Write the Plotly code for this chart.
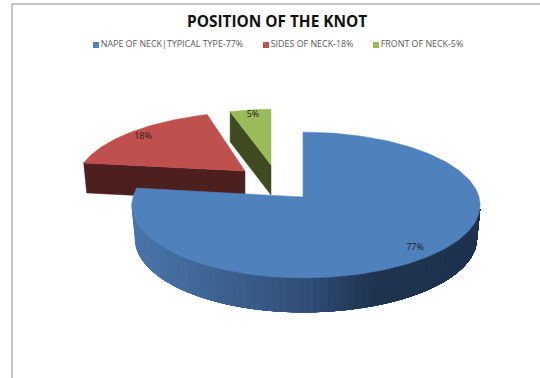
import math
import plotly.graph_objects as go

title = "POSITION OF THE KNOT"
categories = ["NAPE OF NECK|TYPICAL TYPE-77%", "SIDES OF NECK-18%", "FRONT OF NECK-5%"]
shares = [77, 18, 5]
top_colors = ["#4f81bd", "#c0504d", "#9bbb59"]
wall_colors = ["#1f3552", "#4d1f1e", "#3f4a20"]

# Blue slice takes the rim from 12 o'clock clockwise; the rest follow it.
starts = [0.0, shares[0] * 3.6, (shares[0] + shares[1]) * 3.6]
spans = [v * 3.6 for v in shares]

# View of the pie, in screen pixels.
TILT = 72.0
PERSP = 0.11
DEPTH = [34, 30, 30]
APEX = [(303, 197), (245, 171), (271, 165)]
SCALE_X = [1.0, 0.977, 0.86]
SCALE_Y = [1.0, 0.91, 0.86]
SHEAR = [0.0, -0.14, 0.0]
RIM_LEFT, RIM_RIGHT = 170, 176
BASE_NARROW = 0.98

LEGEND_SWATCH_X = [96, 266, 376]
LEGEND_Y = 45
LABEL_X = [415, 143, 253]
LABEL_Y = [248, 137, 115]


def project(theta_deg, i, narrow=1.0):
    """Perspective view of a point on the unit rim."""
    t = math.radians(theta_deg)
    x, y = math.sin(t), math.cos(t)
    w = 1 + PERSP * y
    radius = RIM_RIGHT if x > 0 else RIM_LEFT
    dx = radius * x / w
    dy = -TILT * y / w
    ax, ay = APEX[i]
    return ax + narrow * (SCALE_X[i] * dx + SHEAR[i] * dy), ay + SCALE_Y[i] * dy


def rim(i, a0, a1, steps=90, narrow=1.0):
    pts = [project(a0 + (a1 - a0) * k / steps, i, narrow) for k in range(steps + 1)]
    return [p[0] for p in pts], [p[1] for p in pts]


def poly(xs, ys, color):
    return go.Scatter(x=xs + xs[:1], y=ys + ys[:1], mode="lines", fill="toself",
                      fillcolor=color, line=dict(color=color, width=0.5),
                      hoverinfo="skip", showlegend=False)


def mix(c0, c1, f):
    f = max(0.0, min(1.0, f))
    return "rgb(%d,%d,%d)" % tuple(round(a + (b - a) * f) for a, b in zip(c0, c1))


fig = go.Figure()

# Green and red sit behind the large slice, so they go first.
for i in (2, 1):
    a0 = starts[i]
    ax, ay = APEX[i]
    ex, ey = project(a0, i)
    fig.add_trace(poly([ax, ex, ex + (3 if i == 1 else 0), ax],
                       [ay, ey, ey + DEPTH[i], ay + DEPTH[i]], wall_colors[i]))
    rx, ry = rim(i, a0, a0 + spans[i])
    fig.add_trace(poly([ax] + rx, [ay] + ry, top_colors[i]))

# Curved outer wall of the large slice: each layer repaints the rest of the
# wall from its own angle onward, which leaves no seams between shades.
WALL_LEFT = (74, 118, 171)
WALL_MID = (48, 78, 118)
WALL_RIGHT = (30, 51, 80)
WALL_FROM, WALL_TO = 266.0, 100.0
layers = 80
for k in range(layers):
    t0 = WALL_FROM + (WALL_TO - WALL_FROM) * k / layers
    x_at = project(t0, 0)[0]
    if x_at < 303:
        col = mix(WALL_LEFT, WALL_MID, (x_at - 131) / (303 - 131))
    else:
        col = mix(WALL_MID, WALL_RIGHT, (x_at - 303) / (372 - 303))
    tx, ty = rim(0, t0, WALL_TO, steps=60)
    bx, by = rim(0, t0, WALL_TO, steps=60, narrow=BASE_NARROW)
    by = [v + DEPTH[0] for v in by]
    fig.add_trace(poly(tx + bx[::-1], ty + by[::-1], col))

rx, ry = rim(0, starts[0], spans[0], steps=240)
fig.add_trace(poly([APEX[0][0]] + rx, [APEX[0][1]] + ry, top_colors[0]))

# Percentage labels on the slices.
fig.add_trace(go.Scatter(
    x=LABEL_X, y=LABEL_Y, mode="text",
    text=[f"{v}%" for v in shares],
    textfont=dict(family="Open Sans, sans-serif", size=9, color="#222222"),
    hoverinfo="skip", showlegend=False))

# Legend row: small square plus its caption.
for name, color, sx in zip(categories, top_colors, LEGEND_SWATCH_X):
    fig.add_trace(go.Scatter(
        x=[sx], y=[LEGEND_Y], mode="markers+text", text=[name], textposition="middle right",
        marker=dict(symbol="square", size=6, color=color),
        textfont=dict(family="Open Sans, sans-serif", size=8.9, color="#595959"),
        hoverinfo="skip", showlegend=False))

frame = dict(type="line", xref="x", yref="y", line=dict(color="#8c8c8c", width=1))
fig.update_layout(
    width=540, height=378, margin=dict(l=0, r=0, t=0, b=0),
    paper_bgcolor="white", plot_bgcolor="white", showlegend=False,
    xaxis=dict(range=[0, 540], visible=False, fixedrange=True),
    yaxis=dict(range=[378, 0], visible=False, fixedrange=True),
    shapes=[dict(frame, x0=12, x1=540, y0=4, y1=4), dict(frame, x0=12, x1=12, y0=4, y1=378)],
    annotations=[dict(text=f"<b>{title}</b>", x=277, y=21, xref="x", yref="y", showarrow=False,
                      font=dict(family="Open Sans, sans-serif", size=15.4, color="#111111"))],
)
fig.write_html("out.html")
